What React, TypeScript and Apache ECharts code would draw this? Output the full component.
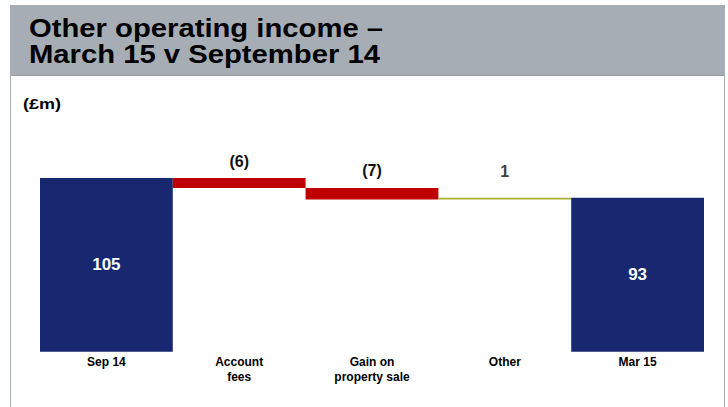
import React, { useEffect, useRef } from "react";
import * as echarts from "echarts";

const categories = ["Sep 14", "Account\nfees", "Gain on\nproperty sale", "Other", "Mar 15"];
const values = [105, -6, -7, 1, 93];
const kinds = ["total", "delta", "delta", "delta", "total"];
const valueLabels = ["105", "(6)", "(7)", "1", "93"];
const titleLines = ["Other operating income –", "March 15 v September 14"];
const unitLabel = "(£m)";

const NAVY = "#172870";
const RED = "#C00000";
const OLIVE = "#A8B22C";
const HEADER = "#A6ADB4";
const FONT = "'Liberation Sans', Arial, sans-serif";

export default function App() {
  const ref = useRef<HTMLDivElement>(null);
  useEffect(() => {
    if (!ref.current) return;
    const chart = echarts.init(ref.current, null, { renderer: "svg" });
    let running = 0;
    const base: any[] = [];
    const vis: any[] = [];
    values.forEach((v, i) => {
      if (kinds[i] === "total") {
        running = v;
        base.push(0);
        vis.push({
          value: v,
          itemStyle: { color: NAVY },
          label: {
            show: true,
            position: "inside",
            formatter: valueLabels[i],
            color: "#fff",
            fontSize: 17,
            fontWeight: "bold",
            fontFamily: FONT,
          },
        });
      } else {
        const start = running;
        const end = running + v;
        running = end;
        base.push(Math.min(start, end));
        vis.push({
          value: Math.abs(v),
          itemStyle: { color: v < 0 ? RED : OLIVE },
          label: {
            show: true,
            position: "top",
            distance: v < 0 ? 9 : 18,
            formatter: valueLabels[i],
            color: v < 0 ? "#111" : "#404040",
            fontSize: 16,
            fontWeight: "bold",
            fontFamily: FONT,
          },
        });
      }
    });
    chart.setOption({
      animation: false,
      grid: { left: 40, right: 24, top: 178, height: 173.7 },
      xAxis: {
        type: "category",
        data: categories,
        axisLine: { show: false },
        axisTick: { show: false },
        axisLabel: {
          color: "#000",
          fontSize: 12,
          fontWeight: "bold",
          lineHeight: 15,
          margin: 3,
          interval: 0,
          fontFamily: FONT,
        },
      },
      yAxis: { type: "value", min: 0, max: 105, show: false },
      series: [
        {
          type: "bar",
          stack: "w",
          data: base,
          itemStyle: { color: "transparent" },
          barCategoryGap: "0%",
          silent: true,
        },
        {
          type: "bar",
          stack: "w",
          data: vis,
          barCategoryGap: "0%",
        },
      ],
      graphic: [
        {
          type: "rect",
          shape: { x: 10, y: 5, width: 715, height: 71 },
          style: { fill: HEADER },
          z: 0,
        },
        {
          type: "line",
          shape: { x1: 10, y1: 75.5, x2: 725, y2: 75.5 },
          style: { stroke: "#959CA3", lineWidth: 1 },
        },
        {
          type: "line",
          shape: { x1: 10.5, y1: 5, x2: 10.5, y2: 407 },
          style: { stroke: "#A6ADB4", lineWidth: 1 },
        },
        {
          type: "line",
          shape: { x1: 724.5, y1: 5, x2: 724.5, y2: 407 },
          style: { stroke: "#A6ADB4", lineWidth: 1 },
        },
        {
          type: "text",
          x: 29,
          y: 15,
          scaleX: 1.17,
          style: {
            text: titleLines.join("\n"),
            fontSize: 25,
            fontWeight: "bold",
            fontFamily: FONT,
            lineHeight: 26,
            fill: "#000",
          },
        },
        {
          type: "text",
          x: 23,
          y: 104,
          scaleX: 1.2,
          style: {
            text: unitLabel,
            fontSize: 15,
            fontWeight: "bold",
            fontFamily: FONT,
            fill: "#000",
            verticalAlign: "middle",
          },
        },
      ],
    });
    return () => chart.dispose();
  }, []);
  return (
    <div
      ref={ref}
      style={{ position: "absolute", left: 0, top: 0, width: 728, height: 407, background: "#fff" }}
    />
  );
}
